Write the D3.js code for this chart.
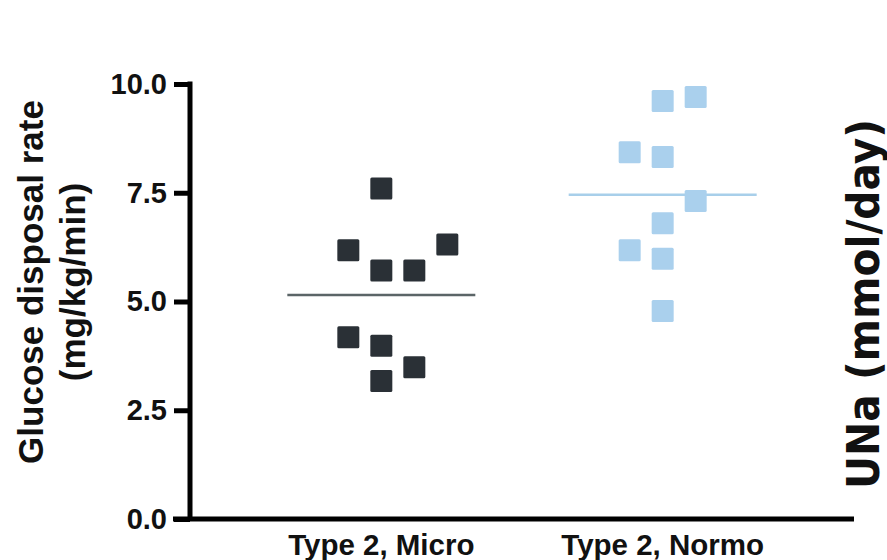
<html>
<head>
<script src="https://d3js.org/d3.v7.min.js"></script>
<style>
  body{margin:0;background:#fff;}
  text{font-family:"Liberation Sans",Arial,sans-serif;font-weight:bold;fill:#111;}
  .unit{font-family:"DejaVu Sans","Lato",sans-serif;font-weight:bold;}
</style>
</head>
<body>
<script>
// groups on the x axis
const categories = ["Type 2, Micro", "Type 2, Normo"];

// glucose disposal rate (mg/kg/min)
const microValues = [7.60, 6.18, 6.31, 5.71, 5.71, 4.18, 3.98, 3.49, 3.17];
const normoValues = [9.61, 9.70, 8.43, 8.32, 7.31, 6.80, 6.18, 5.98, 4.78];
// column of each square inside its group (scatter spread)
const microSlot = [0, -1, 2, 0, 1, -1, 0, 1, 0];
const normoSlot = [0, 1, -1, 0, 1, 0, -1, 0, 0];

const yTicks = [0, 2.5, 5, 7.5, 10];

const w = 887, h = 560;
const axisX = 190, plotTop = 84, plotBottom = 519, plotRight = 854;
const sq = 22, slotW = 33, meanHalf = 94;

const groups = [
  {name: categories[0], values: microValues, slots: microSlot, fill: "#2a3036", line: "#5b6567"},
  {name: categories[1], values: normoValues, slots: normoSlot, fill: "#aad0ed", line: "#a8cfea"}
];

const svg = d3.select("body").append("svg")
  .attr("width", w)
  .attr("height", h);

const y = d3.scaleLinear().domain([0, 10]).range([plotBottom, plotTop]);
const x = d3.scalePoint().domain(categories).range([axisX, plotRight]).padding(0.68);

// y axis
const yAxis = d3.axisLeft(y)
  .tickValues(yTicks)
  .tickFormat(d3.format(".1f"))
  .tickSizeInner(16)
  .tickSizeOuter(0)
  .tickPadding(7);

const gy = svg.append("g")
  .attr("transform", "translate(" + axisX + ",0)")
  .call(yAxis);
gy.select(".domain").attr("stroke", "#000").attr("stroke-width", 5)
  .attr("d", "M0," + (plotTop - 2.5) + "V" + plotBottom);
gy.selectAll(".tick line").attr("stroke", "#000").attr("stroke-width", 5);
gy.selectAll(".tick text")
  .style("font-size", "29px")
  .attr("fill", "#111");

// x axis line
svg.append("line")
  .attr("x1", axisX - 17).attr("x2", plotRight)
  .attr("y1", plotBottom).attr("y2", plotBottom)
  .attr("stroke", "#000").attr("stroke-width", 5);

svg.selectAll(".xlab")
  .data(categories)
  .enter().append("text")
  .attr("class", "xlab")
  .attr("x", d => x(d))
  .attr("y", 555)
  .attr("text-anchor", "middle")
  .style("font-size", "29.5px")
  .text(d => d);

// y axis title
const yt = svg.append("text")
  .attr("transform", "translate(0,282) rotate(-90)")
  .attr("text-anchor", "middle")
  .style("font-size", "35px");
yt.append("tspan").attr("x", 0).attr("y", 43).text("Glucose disposal rate");
yt.append("tspan").attr("x", 0).attr("y", 85).text("(mg/kg/min)");

// right side title
svg.append("text")
  .attr("class", "unit")
  .attr("transform", "translate(879,304) rotate(-90)")
  .attr("text-anchor", "middle")
  .attr("textLength", 370)
  .attr("lengthAdjust", "spacingAndGlyphs")
  .style("font-size", "45px")
  .attr("fill", "#000")
  .text("UNa (mmol/day)");

// squares and mean lines
groups.forEach(function(g){
  const cx = x(g.name);
  const m = d3.mean(g.values);

  svg.append("line")
    .attr("x1", cx - meanHalf).attr("x2", cx + meanHalf)
    .attr("y1", y(m)).attr("y2", y(m))
    .attr("stroke", g.line).attr("stroke-width", 2.5);

  svg.append("g").selectAll("rect")
    .data(g.values)
    .enter().append("rect")
    .attr("x", (d, i) => cx + g.slots[i] * slotW - sq / 2)
    .attr("y", d => y(d) - sq / 2)
    .attr("width", sq)
    .attr("height", sq)
    .attr("rx", 1.5)
    .attr("fill", g.fill);
});
</script>
</body>
</html>
